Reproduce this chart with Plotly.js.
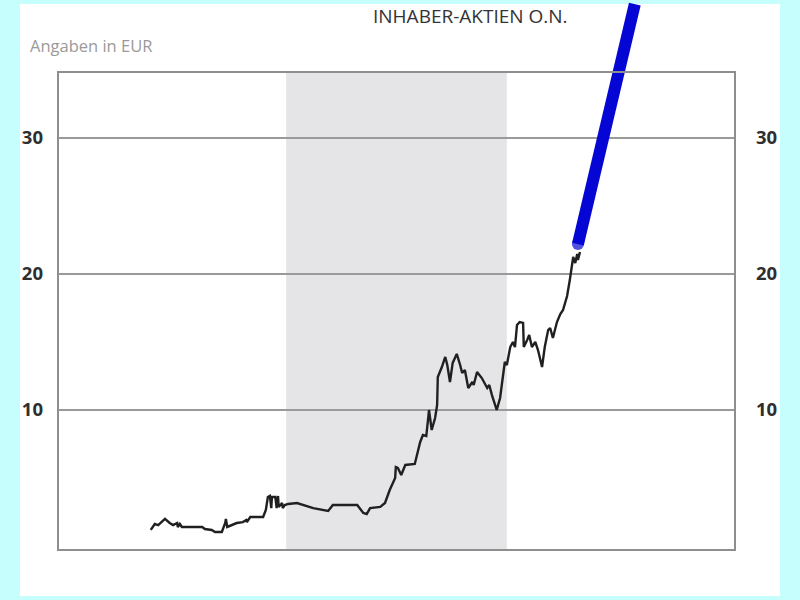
<!DOCTYPE html>
<html>
<head>
<meta charset="utf-8">
<script src="https://cdn.plot.ly/plotly-3.0.1.min.js"></script>
<style>html,body{margin:0;padding:0;background:#c6fefe;}</style>
</head>
<body>
<div id="chart" style="width:800px;height:600px;"></div>
<script>
// ---- data (time index 0..100 across the chart, price in EUR) ----
const zeit = [13.7,14.3,14.8,15.8,16.5,17.0,17.6,17.7,18.0,18.3,19.5,21.3,21.7,22.7,23.2,24.2,24.7,24.8,25.0,25.7,26.4,27.3,27.8,27.9,28.4,30.3,30.7,31.0,31.3,31.5,31.6,32.1,32.3,32.5,32.6,33.1,33.2,33.5,34.0,35.3,37.7,39.9,40.6,44.2,45.1,45.6,46.1,47.6,48.3,49.0,49.8,49.9,50.2,50.7,51.3,52.7,53.0,53.5,53.9,54.4,54.7,54.8,55.2,55.7,56.0,56.1,56.7,57.2,57.5,57.9,58.3,58.9,59.4,59.7,60.1,60.6,61.2,61.4,61.9,62.6,63.4,63.7,64.1,64.5,64.8,65.3,65.7,66.0,66.3,66.8,67.2,67.5,67.8,68.2,68.7,68.8,69.3,69.6,70.0,70.5,70.9,71.5,71.9,72.4,72.7,73.1,73.7,74.2,74.6,75.2,75.6,75.9,76.1,76.4,76.7,76.8,77.1];
const kurs = [1.18,1.62,1.54,1.99,1.69,1.54,1.69,1.40,1.62,1.40,1.40,1.40,1.25,1.18,1.03,1.03,1.69,1.99,1.40,1.54,1.69,1.76,1.91,1.76,2.13,2.13,2.65,3.60,3.68,2.79,3.60,3.60,2.79,3.68,2.87,3.16,2.79,3.01,3.09,3.16,2.79,2.57,3.01,3.01,2.43,2.35,2.79,2.87,3.16,4.12,5.00,5.81,5.74,5.22,5.96,6.03,6.69,7.65,8.16,8.09,9.49,10.00,8.53,9.41,10.37,12.43,13.16,13.90,13.31,12.06,13.46,14.12,13.31,12.72,12.94,11.62,12.06,11.84,12.79,12.35,11.62,11.84,11.10,10.37,10.00,10.88,12.43,13.53,13.31,14.63,15.00,14.63,16.25,16.47,16.40,14.63,15.15,15.51,14.63,15.00,14.41,13.16,14.63,15.88,16.03,15.29,16.47,17.06,17.35,18.38,19.56,20.51,21.25,20.81,21.47,21.03,21.62];
const trendZeit = [76.8, 85.2];
const trendKurs = [22.2, 39.85];
const markierung = [33.7, 66.3];
const yTicks = [10, 20, 30];
const yTickText = ['10', '20', '30'];
const titel = 'INHABER-AKTIEN O.N.';
const einheit = 'Angaben in EUR';

// ---- geometry ----
const W = 800, H = 600, mL = 58, mR = 65, mT = 0, mB = 50;
const plotW = W - mL - mR, plotH = H - mT - mB;
const pxX = p => (p - mL) / plotW;
const pxY = p => (H - mB - p) / plotH;
const domTop = pxY(72);
const yRange = [-0.294, 34.853];
const yRange3 = [yRange[0], yRange[0] + (yRange[1] - yRange[0]) / domTop];

const tickFont = {family: 'Open Sans, sans-serif', size: 18.5, color: '#2e2e2e', weight: 'bold'};

const traces = [
  {x: zeit, y: kurs, type: 'scatter', mode: 'lines', xaxis: 'x', yaxis: 'y',
   line: {color: '#202020', width: 2.4}, hoverinfo: 'skip', showlegend: false},
  {x: [], y: [], type: 'scatter', mode: 'lines', xaxis: 'x', yaxis: 'y2',
   hoverinfo: 'skip', showlegend: false},
  {x: trendZeit, y: trendKurs, type: 'scatter', mode: 'lines+markers', xaxis: 'x', yaxis: 'y3',
   line: {color: '#0606d4', width: 12}, marker: {size: [12, 0], color: '#0606d4', line: {width: 0}},
   hoverinfo: 'skip', showlegend: false}
];

const layout = {
  width: W, height: H,
  margin: {l: mL, r: mR, t: mT, b: mB, pad: 0},
  paper_bgcolor: '#c6fefe',
  plot_bgcolor: 'rgba(0,0,0,0)',
  showlegend: false,
  xaxis: {range: [0, 100], anchor: 'y', showgrid: false, zeroline: false,
          showticklabels: false, ticks: '', showline: false, fixedrange: true},
  yaxis: {domain: [0, domTop], range: yRange, anchor: 'x', tickvals: yTicks, ticktext: yTickText,
          showgrid: true, gridcolor: '#9a9a9a', gridwidth: 2, zeroline: false, showline: false,
          ticks: '', tickfont: tickFont, ticklabelstandoff: 14, fixedrange: true},
  yaxis2: {overlaying: 'y', side: 'right', range: yRange, anchor: 'x', tickvals: yTicks, ticktext: yTickText,
           showgrid: false, zeroline: false, showline: false, ticks: '', tickfont: tickFont,
           ticklabelstandoff: 20, fixedrange: true},
  yaxis3: {domain: [0, 1], range: yRange3, anchor: 'x', visible: false, showgrid: false, zeroline: false, fixedrange: true},
  shapes: [
    {type: 'rect', xref: 'paper', yref: 'paper', x0: pxX(20), x1: pxX(780), y0: pxY(596), y1: pxY(4),
     fillcolor: '#ffffff', line: {width: 0}, layer: 'below'},
    {type: 'rect', xref: 'x', yref: 'y domain', x0: markierung[0], x1: markierung[1], y0: 0, y1: 1,
     fillcolor: '#e5e5e7', line: {width: 0}, layer: 'below'},
    {type: 'rect', xref: 'x domain', yref: 'y domain', x0: 0, x1: 1, y0: 0, y1: 1,
     fillcolor: 'rgba(0,0,0,0)', line: {color: '#8e8e8e', width: 2}, layer: 'above'}
  ],
  annotations: [
    {text: titel, xref: 'paper', yref: 'paper', x: pxX(470), y: pxY(16), xanchor: 'center', yanchor: 'middle',
     showarrow: false, font: {family: 'Open Sans, sans-serif', size: 19, color: '#333333'}},
    {text: einheit, xref: 'paper', yref: 'paper', x: pxX(28), y: pxY(46), xanchor: 'left', yanchor: 'middle',
     showarrow: false, font: {family: 'Open Sans, sans-serif', size: 16.5, color: '#9a9a9a'}}
  ]
};

Plotly.newPlot('chart', traces, layout, {staticPlot: true, displayModeBar: false});
</script>
</body>
</html>
